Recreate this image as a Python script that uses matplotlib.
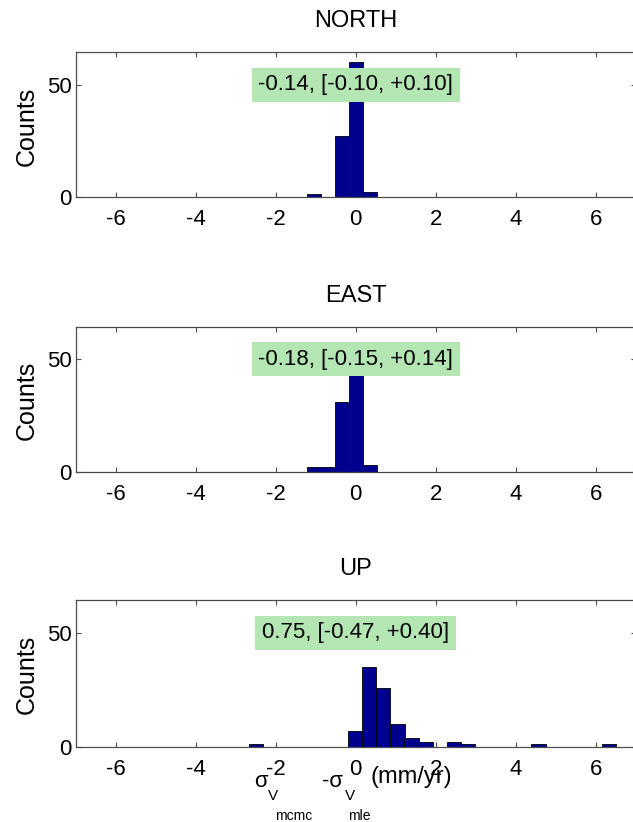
import matplotlib
matplotlib.use('Agg')
import matplotlib.pyplot as plt

# histogram bins (bin centres in mm/yr, counts)
north_centers = [-1.05, -0.35, 0.005, 0.36]
north_counts = [1, 27, 60, 2]
north_width = 0.355

east_centers = [-1.05, -0.70, -0.35, 0.005, 0.36]
east_counts = [2, 2, 31, 52, 3]
east_width = 0.355

up_centers = [-2.484, -0.014, 0.339, 0.691, 1.044, 1.396, 1.749,
              2.454, 2.806, 4.569, 6.331]
up_counts = [1, 7, 35, 26, 10, 4, 2, 2, 1, 1, 1]
up_width = 0.3525

titles = ['NORTH', 'EAST', 'UP']
box_texts = ['-0.14, [-0.10, +0.10]',
             '-0.18, [-0.15, +0.14]',
             '0.75, [-0.47, +0.40]']
x_ticks = [-6, -4, -2, 0, 2, 4, 6]
y_ticks = [0, 50]

W, H = 633, 822
plt.rcParams['font.family'] = ['Liberation Sans', 'DejaVu Sans']

fig = plt.figure(figsize=(W / 100, H / 100), dpi=100)

panels = [
    (north_centers, north_counts, north_width, 52.3, 196.7),
    (east_centers, east_counts, east_width, 326.7, 471.7),
    (up_centers, up_counts, up_width, 600.0, 746.7),
]

bar_color = (0, 0, 0.5625)
box_color = (0.7, 0.9, 0.7)
spine_color = '0.3'

for i, (centers, counts, width, top, bottom) in enumerate(panels):
    left = 75.7
    ax = fig.add_axes([left / W, 1 - bottom / H, 560 / W, (bottom - top) / H])
    ax.bar(centers, counts, width=width, color=bar_color,
           edgecolor='k', linewidth=0.6, zorder=2)
    ax.text(0, 50, box_texts[i], ha='center', va='center', fontsize=16,
            zorder=3, bbox=dict(facecolor=box_color, edgecolor='none',
                                boxstyle='square,pad=0.3'))
    ax.set_xlim(-7, 7)
    ax.set_ylim(0, 64.5)
    ax.set_xticks(x_ticks)
    ax.set_xticklabels([str(t) for t in x_ticks])
    ax.set_yticks(y_ticks)
    ax.tick_params(direction='in', length=3.5, width=0.8, colors=spine_color,
                   labelcolor='k', labelsize=16, top=True, right=True)
    ax.tick_params(axis='x', pad=9)
    ax.tick_params(axis='y', pad=3)
    for sp in ax.spines.values():
        sp.set_color(spine_color)
        sp.set_linewidth(0.9)
    ax.set_title(titles[i], fontsize=17, pad=18)
    ax.set_ylabel('Counts', fontsize=18)
    ax.yaxis.set_label_coords(-0.066, 0.49)


def ftext(x, y, s, size):
    fig.text(x / W, 1 - y / H, s, ha='left', va='baseline', fontsize=size)


# x label of the bottom panel, pieced together like the original
ftext(254, 787, '\u03c3', 16)
ftext(268, 800, 'V', 11)
ftext(275, 820, 'mcmc', 10)
ftext(322, 787, '-\u03c3', 16)
ftext(345, 800, 'V', 11)
ftext(348, 820, 'mle', 10)
ftext(370, 783, '(mm/yr)', 17)

fig.savefig('out.png', dpi=100)
